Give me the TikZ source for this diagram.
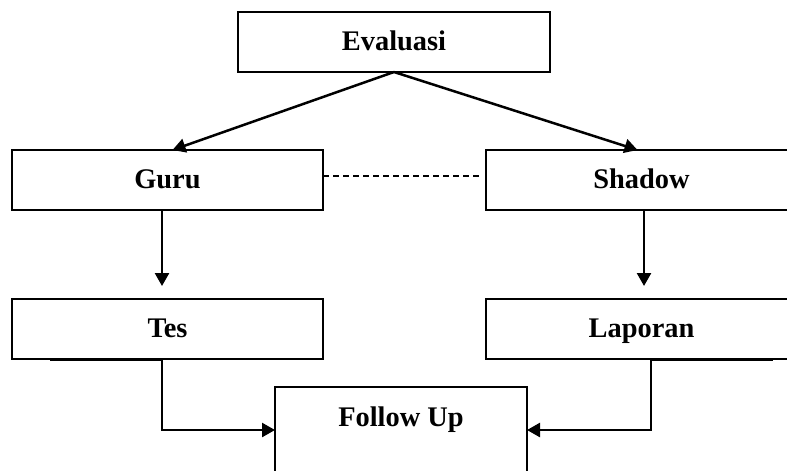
\documentclass[tikz,border=0pt]{standalone}
\usepackage{fontspec}
\setmainfont{Liberation Serif}
\usetikzlibrary{arrows.meta}
\begin{document}
\begin{tikzpicture}[x=1pt,y=-1pt,
  box/.style={draw, line width=2pt, rectangle, outer sep=0pt, inner sep=0pt,
    minimum width=311pt, minimum height=60pt, text height=22pt, text depth=5pt,
    font=\fontsize{28.4}{34}\selectfont\bfseries},
  label text/.style={inner sep=0pt, text height=22pt, text depth=5pt,
    font=\fontsize{28.4}{34}\selectfont\bfseries},
  conn/.style={line width=2.5pt},
  arr/.style={conn, -{Triangle[length=13pt,width=14pt]}},
  dashline/.style={line width=2pt, dash pattern=on 6pt off 4pt}]
  \path[use as bounding box, clip] (0,0) rectangle (787,471);

  % boxes
  \node[box, minimum width=312pt] (eval) at (394,42) {Evaluasi};
  \node[box] (guru)   at (167.5,180) {Guru};
  \node[box] (shadow) at (641.5,180) {Shadow};
  \node[box] (tes)    at (167.5,329) {Tes};
  \node[box] (lap)    at (641.5,329) {Laporan};
  \node[box, minimum width=252pt, minimum height=130pt] (fu) at (401,452) {};
  \node[label text] (futext) at (401,418) {Follow Up};

  % connectors
  \draw[arr] (eval.south) -- ([xshift=5pt]guru.north);
  \draw[arr] (eval.south) -- ([xshift=-4pt]shadow.north);
  \draw[dashline] ([yshift=4pt]guru.east) -- ([yshift=4pt,xshift=-6pt]shadow.west);
  \draw[arr, shorten >=13pt] ([xshift=-5.5pt]guru.south) -- ([xshift=-5.5pt]tes.north);
  \draw[arr, shorten >=13pt] ([xshift=2.5pt]shadow.south) -- ([xshift=2.5pt]lap.north);

  \draw[line width=3pt] ([xshift=-117.5pt]tes.south) -- ([xshift=-5.5pt]tes.south);
  \draw[arr] ([xshift=-5.5pt]tes.south) |- ([yshift=22pt]fu.west);
  \draw[line width=3pt] ([xshift=9.5pt]lap.south) -- ([xshift=131.5pt]lap.south);
  \draw[arr] ([xshift=9.5pt]lap.south) |- ([yshift=22pt]fu.east);
\end{tikzpicture}
\end{document}
